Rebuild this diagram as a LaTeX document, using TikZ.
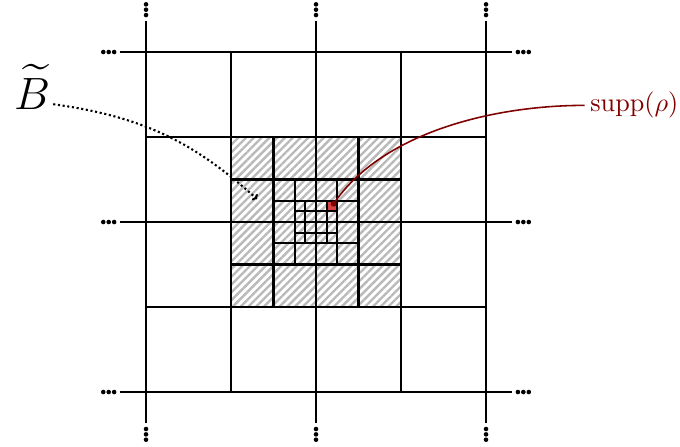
\documentclass[tikz,border=0pt]{standalone}
\usepackage{amsmath, amssymb}
\usepackage{tikz}
\usetikzlibrary{arrows.meta,patterns.meta}
\usepackage{xcolor}
\definecolor{suppred}{RGB}{128,0,0}
\definecolor{cellred}{RGB}{214,66,66}

\begin{document}
\begin{tikzpicture}[
  x=1.14cm, y=1.14cm,
  >=Latex,
  gridline/.style={draw, thick},
  hatched/.style={pattern={Lines[angle=45,distance=2.1pt,line width=0.9pt]}, pattern color=gray!55},
  every node/.style={inner sep=1pt}
]
  \useasboundingbox (-3.718,-2.635) rectangle (4.282,2.612);

  \fill[hatched] (-1,-1) rectangle (1,1);
  \fill[cellred] (0.125,0.125) rectangle (0.25,0.25);

  \foreach \c in {-2,0,2} {
    \draw[gridline] (-2.31,\c) -- (2.31,\c);
    \draw[gridline] (\c,-2.37) -- (\c,2.37);
    \foreach \k in {0,1,2} {
      \fill (-2.375-0.064*\k,\c) circle (0.027);
      \fill (2.375+0.064*\k,\c) circle (0.027);
      \fill (\c,2.435+0.063*\k) circle (0.027);
      \fill (\c,-2.435-0.063*\k) circle (0.027);
    }
  }
  \foreach \s in {1,0.5,0.25,0.125} {
    \draw[gridline] (-2*\s,\s) -- (2*\s,\s);
    \draw[gridline] (-2*\s,-\s) -- (2*\s,-\s);
    \draw[gridline] (\s,-2*\s) -- (\s,2*\s);
    \draw[gridline] (-\s,-2*\s) -- (-\s,2*\s);
  }

  \coordinate (bend) at (-0.694,0.27);
  \coordinate (rho) at (0.1875,0.1875);

  \node[anchor=base] (Btil) at (-3.34,1.32) {\fontsize{18.6}{22}\selectfont$\widetilde{B}$};
  \node[anchor=base west, inner sep=2pt, text=suppred] (supp) at (3.16,1.306) {$\operatorname{supp}(\rho)$};

  \draw[-{To[length=1.5pt]}, densely dotted, thick] (Btil.mid east) to[out=-8, in=138] (bend);
  \draw[-{Circle[length=2.2pt]}, suppred, semithick] (supp.mid west) to[out=180, in=55, looseness=0.85] (rho);
\end{tikzpicture}
\end{document}
